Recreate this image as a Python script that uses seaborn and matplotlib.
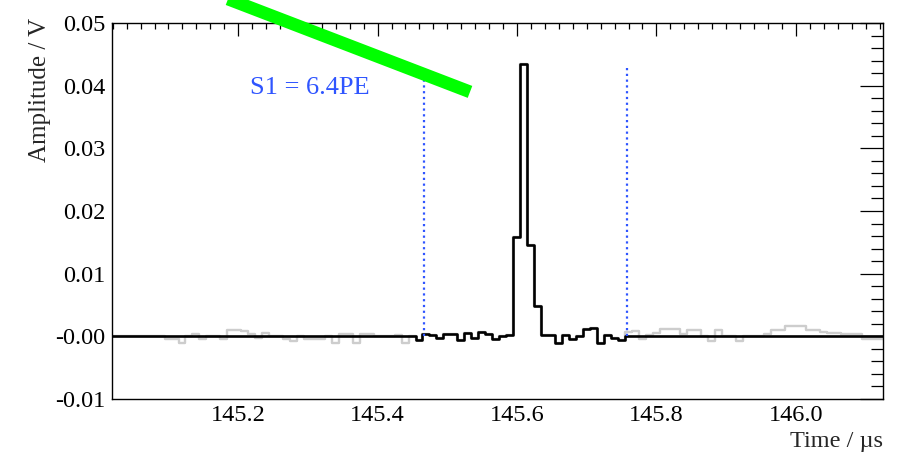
import numpy as np
import pandas as pd
import matplotlib
matplotlib.use("Agg")
import matplotlib.pyplot as plt
from matplotlib.lines import Line2D
from matplotlib.ticker import FixedLocator, FixedFormatter, MultipleLocator
import seaborn as sns

# ---- waveform data -------------------------------------------------------
sample_start_us = 145.0144   # left edge of the first sample bin
sample_width_us = 0.01
view_range_us = (145.019, 146.125)
amp_range_v = (-0.01, 0.05)

# amplitude per sample (V)
amplitude_v = [
    0.0, 0.0, 0.0, 0.0, 0.0, 0.0, 0.0, 0.0, -0.0005, -0.0005,
    -0.0010, 0.0, 0.0003, -0.0004, 0.0, 0.0, -0.0004, 0.0010, 0.0010, 0.0008,
    0.0003, -0.0002, 0.0005, 0.0, 0.0, -0.0004, -0.0008, 0.0, -0.0004, -0.0004,
    -0.0004, 0.0, -0.0010, 0.0003, 0.0003, -0.0010, 0.0003, 0.0003, 0.0, 0.0,
    0.0, 0.0002, -0.0010, 0.0, -0.0006, 0.0004, 0.0002, -0.0002, 0.0004, 0.0004,
    -0.0006, 0.0005, -0.0002, 0.0007, 0.0003, -0.0004, 0.0, 0.0002, 0.0159, 0.0434,
    0.0145, 0.0049, 0.0002, 0.0002, -0.0011, 0.0002, -0.0004, 0.0, 0.0012, 0.0014,
    -0.0011, 0.0002, -0.0003, -0.0006, 0.0007, 0.0008, -0.0005, 0.0002, 0.0005, 0.0011,
    0.0011, 0.0011, 0.0003, 0.0010, 0.0010, 0.0, -0.0007, 0.0010, 0.0, 0.0,
    -0.0007, 0.0, 0.0, 0.0, 0.0003, 0.0010, 0.0010, 0.0016, 0.0016, 0.0016,
    0.0010, 0.0010, 0.0007, 0.0005, 0.0005, 0.0003, 0.0003, 0.0003, -0.0004, -0.0004,
    -0.0004, -0.0004,
]

# integration window (sample indices) and its drawn limits
gate_first_bin = 44
gate_last_bin = 73
gate_times_us = [145.467, 145.758]
gate_height_v = 0.043
s1_label = "S1 = 6.4PE"

x_tick_values = [145.2, 145.4, 145.6, 145.8, 146.0]
x_tick_labels = ["145.2", "145.4", "145.6", "145.8", "146.0"]
y_tick_values = [-0.01, 0.0, 0.01, 0.02, 0.03, 0.04, 0.05]
y_tick_labels = ["-0.01", "-0.00", "0.01", "0.02", "0.03", "0.04", "0.05"]

# ---- tables --------------------------------------------------------------
n_bins = len(amplitude_v)
bin_range = (sample_start_us, sample_start_us + n_bins * sample_width_us)
centers = sample_start_us + sample_width_us * (np.arange(n_bins) + 0.5)
amp = np.asarray(amplitude_v)
idx = np.arange(n_bins)
gated = np.where((idx >= gate_first_bin) & (idx <= gate_last_bin), amp, 0.0)
wave = pd.DataFrame({"time": centers, "full": amp, "gated": gated})

# ---- style ---------------------------------------------------------------
sns.set_theme(style="white")
plt.rcParams["font.family"] = ["Liberation Serif", "DejaVu Serif"]

W, H = 908, 455
fig = plt.figure(figsize=(W / 100, H / 100), dpi=100)
fig.patch.set_facecolor("white")
left_px, right_px, top_px, bottom_px = 112, 883, 23, 399
ax = fig.add_axes([left_px / W, 1 - bottom_px / H,
                   (right_px - left_px) / W, (bottom_px - top_px) / H])
ax.set_facecolor("white")

# full waveform in light grey
sns.histplot(data=wave, x="time", weights="full", bins=n_bins,
             binrange=bin_range, element="step", fill=False,
             color="#cdcdcd", linewidth=1.7, ax=ax)
# windowed waveform in black
sns.histplot(data=wave, x="time", weights="gated", bins=n_bins,
             binrange=bin_range, element="step", fill=False,
             color="black", linewidth=1.9, ax=ax)

# integration window boundaries
for t in gate_times_us:
    ax.plot([t, t], [0.0, gate_height_v], color="#2f55ff", lw=1.6,
            linestyle=(0, (1.0, 1.6)), zorder=3)

ax.text(0.179, 0.81, s1_label, transform=ax.transAxes, color="#2f55ff",
        fontsize=19, ha="left", va="baseline")

ax.set_xlim(*view_range_us)
ax.set_ylim(*amp_range_v)

ax.xaxis.set_major_locator(FixedLocator(x_tick_values))
ax.xaxis.set_major_formatter(FixedFormatter(x_tick_labels))
ax.xaxis.set_minor_locator(MultipleLocator(0.02))
ax.yaxis.set_major_locator(FixedLocator(y_tick_values))
ax.yaxis.set_major_formatter(FixedFormatter(y_tick_labels))
ax.yaxis.set_minor_locator(MultipleLocator(0.002))

ax.tick_params(which="both", direction="in", top=True, right=True,
               colors="black", width=0.9, labelsize=17.5)
ax.tick_params(axis="y", which="major", length=16.5, pad=5)
ax.tick_params(axis="y", which="minor", length=8.5)
ax.tick_params(axis="x", which="major", length=9, pad=4)
ax.tick_params(axis="x", which="minor", length=4.3)
for s in ax.spines.values():
    s.set_visible(True)
    s.set_color("black")
    s.set_linewidth(1.0)

ax.set_xlabel("")
ax.set_ylabel("")
fig.text(right_px / W, 1 - 441 / H, "Time / µs", ha="right", va="center",
         fontsize=17.5)
fig.text(40 / W, 1 - 18 / H, "Amplitude / V", rotation=90, ha="center",
         va="top", fontsize=18)

# green pointer stroke across the upper left
fig.add_artist(Line2D([190 / W, 470 / W], [1 - (-15.6) / H, 1 - 91.9 / H],
                      transform=fig.transFigure, color="#00ff00", lw=9.2,
                      solid_capstyle="butt", zorder=10))

fig.savefig("out.png", dpi=100)
